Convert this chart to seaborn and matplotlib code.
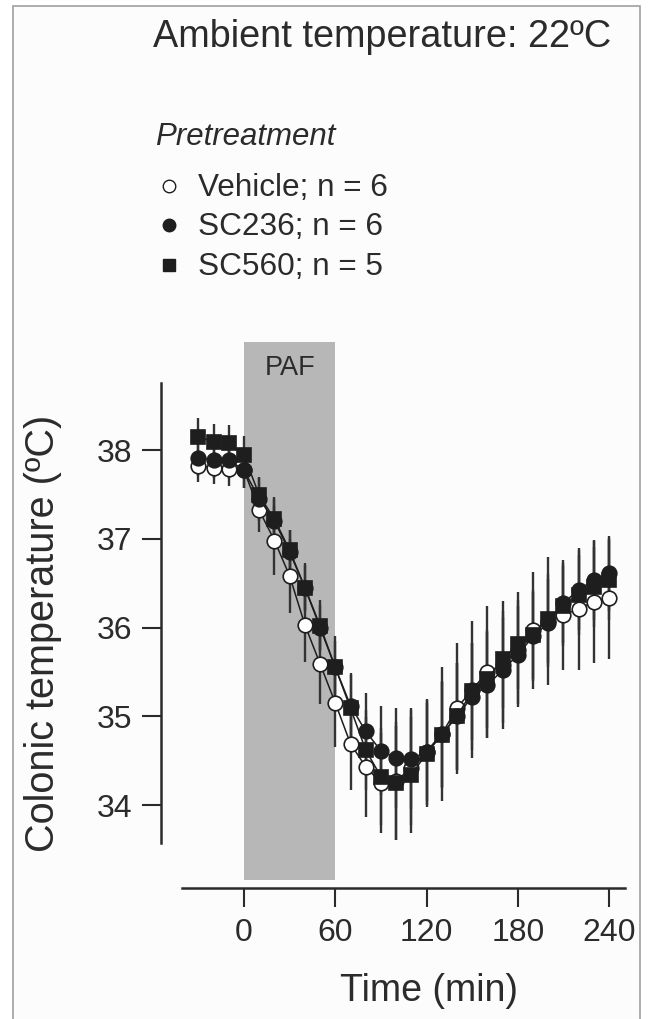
import numpy as np
import pandas as pd
import matplotlib
matplotlib.use("Agg")
import matplotlib.pyplot as plt
from matplotlib.lines import Line2D
from matplotlib.patches import Rectangle
import seaborn as sns

# time points (min), 10-min sampling from -30 to 240
time = np.arange(-30, 241, 10)

vehicle_mean = [37.82, 37.80, 37.79, 37.77, 37.32, 36.98, 36.58, 36.03, 35.59, 35.15,
                34.69, 34.43, 34.25, 34.27, 34.42, 34.60, 34.80, 35.09, 35.30, 35.50,
                35.58, 35.75, 35.97, 36.07, 36.14, 36.21, 36.29, 36.33]
vehicle_sem = [0.18, 0.18, 0.20, 0.20, 0.24, 0.39, 0.42, 0.42, 0.45, 0.50,
               0.52, 0.56, 0.56, 0.66, 0.65, 0.60, 0.76, 0.74, 0.77, 0.74,
               0.72, 0.65, 0.66, 0.72, 0.62, 0.69, 0.69, 0.68]

sc236_mean = [37.91, 37.89, 37.89, 37.77, 37.45, 37.20, 36.85, 36.45, 36.00, 35.55,
              35.12, 34.83, 34.61, 34.53, 34.52, 34.60, 34.80, 35.00, 35.22, 35.35,
              35.52, 35.69, 35.90, 36.05, 36.28, 36.42, 36.54, 36.61]
sc236_sem = [0.20, 0.20, 0.20, 0.20, 0.25, 0.25, 0.25, 0.25, 0.25, 0.30,
             0.35, 0.43, 0.50, 0.56, 0.57, 0.55, 0.60, 0.60, 0.60, 0.60,
             0.60, 0.55, 0.50, 0.50, 0.45, 0.45, 0.45, 0.42]

sc560_mean = [38.15, 38.09, 38.08, 37.94, 37.49, 37.22, 36.87, 36.45, 36.02, 35.55,
              35.09, 34.62, 34.32, 34.25, 34.34, 34.58, 34.79, 35.00, 35.28, 35.42,
              35.64, 35.81, 35.92, 36.10, 36.24, 36.37, 36.46, 36.54]
sc560_sem = [0.21, 0.20, 0.20, 0.22, 0.20, 0.25, 0.23, 0.28, 0.29, 0.35,
             0.40, 0.45, 0.55, 0.64, 0.65, 0.60, 0.60, 0.60, 0.55, 0.55,
             0.55, 0.50, 0.50, 0.50, 0.45, 0.45, 0.45, 0.45]

labels = ["Vehicle; n = 6", "SC236; n = 6", "SC560; n = 5"]
markers = ["o", "o", "s"]
faces = ["white", "#1e1e1e", "#1e1e1e"]

ink = "#2b2b2b"
W, H = 650, 1019

sns.set_style("ticks")
plt.rcParams["font.family"] = ["Liberation Sans", "DejaVu Sans"]
plt.rcParams["text.color"] = ink
plt.rcParams["axes.labelcolor"] = ink
plt.rcParams["xtick.color"] = ink
plt.rcParams["ytick.color"] = ink

fig = plt.figure(figsize=(W / 100, H / 100), dpi=100)
fig.patch.set_facecolor("white")
fig.add_artist(Rectangle((12.5 / W, -0.01), 627 / W, 1 - 6 / H + 0.01,
                         transform=fig.transFigure, facecolor="#fcfcfc",
                         edgecolor="#a0a0a0", lw=1.2, zorder=-10))

ax = fig.add_axes([182 / W, 1 - 880 / H, 443 / W, 538 / H])
ax.patch.set_alpha(0)

# PAF infusion window
ax.axvspan(0, 60, color="#b7b7b7", lw=0, zorder=0)
ax.text(30, 38.84, "PAF", ha="center", va="baseline", fontsize=19.5, color=ink)

df = pd.DataFrame({"time": np.tile(time, 3),
                   "temp": np.concatenate([vehicle_mean, sc236_mean, sc560_mean]),
                   "sem": np.concatenate([vehicle_sem, sc236_sem, sc560_sem]),
                   "group": np.repeat(labels, len(time))})

for i, (lab, mk, fc) in enumerate(zip(labels, markers, faces)):
    d = df[df["group"] == lab]
    ax.errorbar(d["time"], d["temp"], yerr=d["sem"], fmt="none",
                ecolor="#333333", elinewidth=1.7, capsize=0, zorder=2)
    sns.lineplot(data=d, x="time", y="temp", ax=ax, color="#1e1e1e", lw=1.1,
                 marker=mk, markersize=10.5 if mk == "o" else 10,
                 markerfacecolor=fc, markeredgecolor="#1e1e1e",
                 markeredgewidth=1.2, errorbar=None, zorder=3 + i)

ax.set_xlim(-40.8, 250.5)
ax.set_ylim(33.155, 39.217)
ax.set_xticks([0, 60, 120, 180, 240])
ax.set_yticks([34, 35, 36, 37, 38])
ax.tick_params(axis="both", labelsize=23, width=1.5, length=13.5, color=ink)
ax.tick_params(axis="x", pad=8)
ax.tick_params(axis="y", pad=7)

for s in ["top", "right"]:
    ax.spines[s].set_visible(False)
ax.spines["left"].set_position(("outward", 15))
ax.spines["left"].set_bounds(33.57, 38.755)
ax.spines["bottom"].set_position(("outward", 6))
for s in ["left", "bottom"]:
    ax.spines[s].set_linewidth(1.8)
    ax.spines[s].set_color(ink)

ax.set_xlabel("Time (min)", fontsize=27)
ax.set_ylabel("Colonic temperature (ºC)", fontsize=28.5)
ax.xaxis.set_label_coords(0.5576, -0.173)
ax.yaxis.set_label_coords(-0.272, 0.459)

fig.text(153 / W, 1 - 47 / H, "Ambient temperature: 22ºC", fontsize=27.3,
         ha="left", va="baseline")

# legend block
fig.text(155 / W, 1 - 145 / H, "Pretreatment", fontsize=22.5, style="italic",
         ha="left", va="baseline")
for lab, mk, fc, yc in zip(labels, markers, faces, [186, 225, 265]):
    fig.add_artist(Line2D([168.5 / W], [1 - yc / H], transform=fig.transFigure,
                          marker=mk, markersize=9 if mk == "o" else 8.5,
                          markerfacecolor=fc, markeredgecolor="#1e1e1e",
                          markeredgewidth=1.0, linestyle="none"))
    fig.text(198 / W, 1 - (yc + 10) / H, lab, fontsize=22.7, ha="left",
             va="baseline")

fig.savefig("out.png", dpi=100)
